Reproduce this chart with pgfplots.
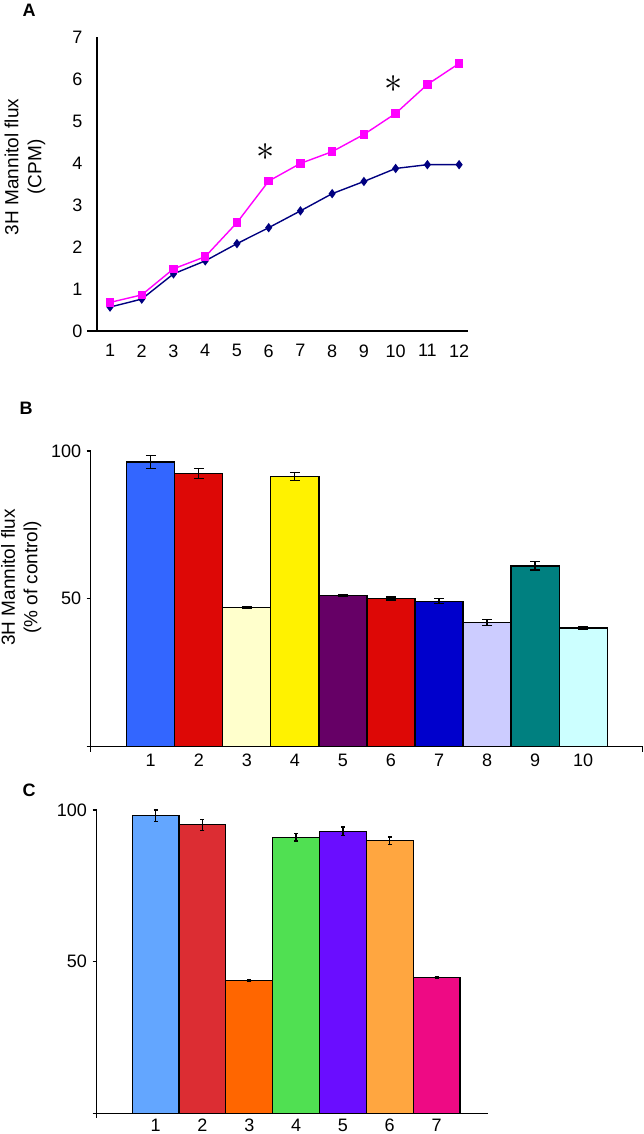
\documentclass[border=0pt]{standalone}
\usepackage{fontspec}
\setmainfont{Liberation Sans}
\usepackage{graphicx}
\usepackage{pgfplots}
\pgfplotsset{compat=1.18}

\definecolor{pinkA}{HTML}{FF00FF}
\definecolor{navyA}{HTML}{000080}
\definecolor{bA}{HTML}{3366FF}
\definecolor{bB}{HTML}{DD0806}
\definecolor{bC}{HTML}{FFFFCC}
\definecolor{bD}{HTML}{FFF200}
\definecolor{bE}{HTML}{660066}
\definecolor{bF}{HTML}{DD0806}
\definecolor{bG}{HTML}{0000CC}
\definecolor{bH}{HTML}{CCCCFF}
\definecolor{bI}{HTML}{008080}
\definecolor{bJ}{HTML}{CCFFFF}
\definecolor{cA}{HTML}{63A6FF}
\definecolor{cB}{HTML}{DC2D33}
\definecolor{cC}{HTML}{FF6600}
\definecolor{cD}{HTML}{50E052}
\definecolor{cE}{HTML}{6A0DFF}
\definecolor{cF}{HTML}{FFA640}
\definecolor{cG}{HTML}{EE0A84}

\pgfplotsset{
  barpanel/.style={
    scale only axis,
    ymin=0, ymax=100,
    axis x line*=bottom, axis y line*=left,
    axis line style={line width=1.2pt, black},
    ytick={0,50,100}, yticklabels={,50,100},
    ytick align=outside, major tick length=4pt,
    y tick style={line width=1.2pt, black},
    x tick style={draw=none},
    tick label style={font=\fontsize{18}{18}\selectfont},
    yticklabel style={xshift=-2pt},
    every axis plot/.append style={ybar, bar width=1, bar shift=0pt, draw=black, line width=1.2pt,
      error bars/y dir=both, error bars/y explicit,
      error bars/error bar style={line width=1.2pt, black, solid}},
  },
}

\begin{document}
\begin{tikzpicture}
\path[use as bounding box] (0,0) rectangle (644pt,-1134pt);

% ---------------- Panel A ----------------
\node[font=\bfseries\fontsize{18}{18}\selectfont] at (29pt,-10.5pt) {A};
\begin{axis}[
  at={(97pt,-331pt)}, anchor=south west,
  scale only axis, width=371pt, height=294pt,
  xmin=0.59, xmax=12.28, ymin=0, ymax=7,
  axis x line*=bottom, axis y line*=left,
  axis line style={line width=1.2pt, black},
  xtick={1,...,12}, ytick={0,...,7},
  major tick length=0pt,
  tick label style={font=\fontsize{18}{18}\selectfont},
  /pgf/number format/assume math mode=true,
  yticklabel style={xshift=-11pt},
  xticklabel style={yshift=-10pt},
  ylabel={3H Mannitol flux\\(CPM)},
  ylabel style={font=\fontsize{19}{23}\selectfont, align=center,
    at={(axis description cs:-0.194,0.558)}, rotate=0, anchor=center},
  clip=false,
]
\addplot[navyA, line width=1.4pt, mark=diamond*, mark size=3.6pt, mark options={solid, fill=navyA}]
  coordinates {(1,0.57) (2,0.76) (3,1.36) (4,1.67) (5,2.08) (6,2.46) (7,2.86) (8,3.27) (9,3.56) (10,3.87) (11,3.96) (12,3.96)};
\addplot[pinkA, line width=1.4pt, mark=square*, mark size=3.5pt, mark options={solid, fill=pinkA}]
  coordinates {(1,0.68) (2,0.86) (3,1.48) (4,1.77) (5,2.58) (6,3.57) (7,3.99) (8,4.27) (9,4.68) (10,5.18) (11,5.87) (12,6.37)};
\draw[line width=1.2pt] (axis cs:0.59,0) -- ++(-10pt,0pt);
\node at (axis cs:5.90,4.27) {\scalebox{2.1}{\fontsize{17}{17}\selectfont$\ast$}};
\node at (axis cs:9.92,5.89) {\scalebox{2.1}{\fontsize{17}{17}\selectfont$\ast$}};
\end{axis}

% ---------------- Panel B ----------------
\node[font=\bfseries\fontsize{18}{18}\selectfont] at (26pt,-408pt) {B};
\begin{axis}[
  barpanel,
  at={(90.7pt,-746.5pt)}, anchor=south west,
  width=552pt, height=295.5pt,
  xmin=-0.25, xmax=11.24,
  xtick={1,...,10}, xticklabels={1,2,3,4,5,6,7,8,9,10},
  xticklabel style={yshift=-4pt},
  ylabel={3H Mannitol flux\\(\% of control)},
  ylabel style={font=\fontsize{19}{22.5}\selectfont, align=center,
    at={(axis description cs:-0.126,0.572)}, rotate=0, anchor=center},
  error bars/error mark options={rotate=90, line width=1.2pt, black, mark size=5pt},
  clip=false,
]
\addplot[fill=bA] coordinates {(1,96.3) +- (0,2.1)};
\addplot[fill=bB] coordinates {(2,92.3) +- (0,1.7)};
\addplot[fill=bC] coordinates {(3,47.1) +- (0,0.4)};
\addplot[fill=bD] coordinates {(4,91.3) +- (0,1.4)};
\addplot[fill=bE] coordinates {(5,51.2) +- (0,0.3)};
\addplot[fill=bF] coordinates {(6,50.1) +- (0,0.5)};
\addplot[fill=bG] coordinates {(7,49.2) +- (0,0.9)};
\addplot[fill=bH] coordinates {(8,42.0) +- (0,1.1)};
\addplot[fill=bI] coordinates {(9,61.1) +- (0,1.4)};
\addplot[fill=bJ] coordinates {(10,40.1) +- (0,0.4)};
\draw[line width=1.2pt] (axis cs:-0.25,0) -- ++(0pt,-5pt);
\draw[line width=1.2pt] (axis cs:11.24,0) -- ++(0pt,-5pt);
\end{axis}

% ---------------- Panel C ----------------
\node[font=\bfseries\fontsize{18}{18}\selectfont] at (29pt,-790pt) {C};
\begin{axis}[
  barpanel,
  at={(96.5pt,-1113.3pt)}, anchor=south west,
  width=391.4pt, height=303.3pt,
  xmin=-0.262, xmax=8.096,
  xtick={1,...,7}, xticklabels={1,2,3,4,5,6,7},
  xticklabel style={yshift=-2pt},
  error bars/error mark options={rotate=90, line width=1.2pt, black, mark size=2pt},
  clip=false,
]
\addplot[fill=cA] coordinates {(1,98.1) +- (0,1.9)};
\addplot[fill=cB] coordinates {(2,95.1) +- (0,1.8)};
\addplot[fill=cC] coordinates {(3,43.7) +- (0,0.3)};
\addplot[fill=cD] coordinates {(4,91.0) +- (0,1.2)};
\addplot[fill=cE] coordinates {(5,93.0) +- (0,1.4)};
\addplot[fill=cF] coordinates {(6,89.9) +- (0,1.2)};
\addplot[fill=cG] coordinates {(7,44.8) +- (0,0.3)};
\draw[line width=1.2pt] (axis cs:-0.262,0) -- ++(0pt,-5pt);
\end{axis}
\end{tikzpicture}
\end{document}
